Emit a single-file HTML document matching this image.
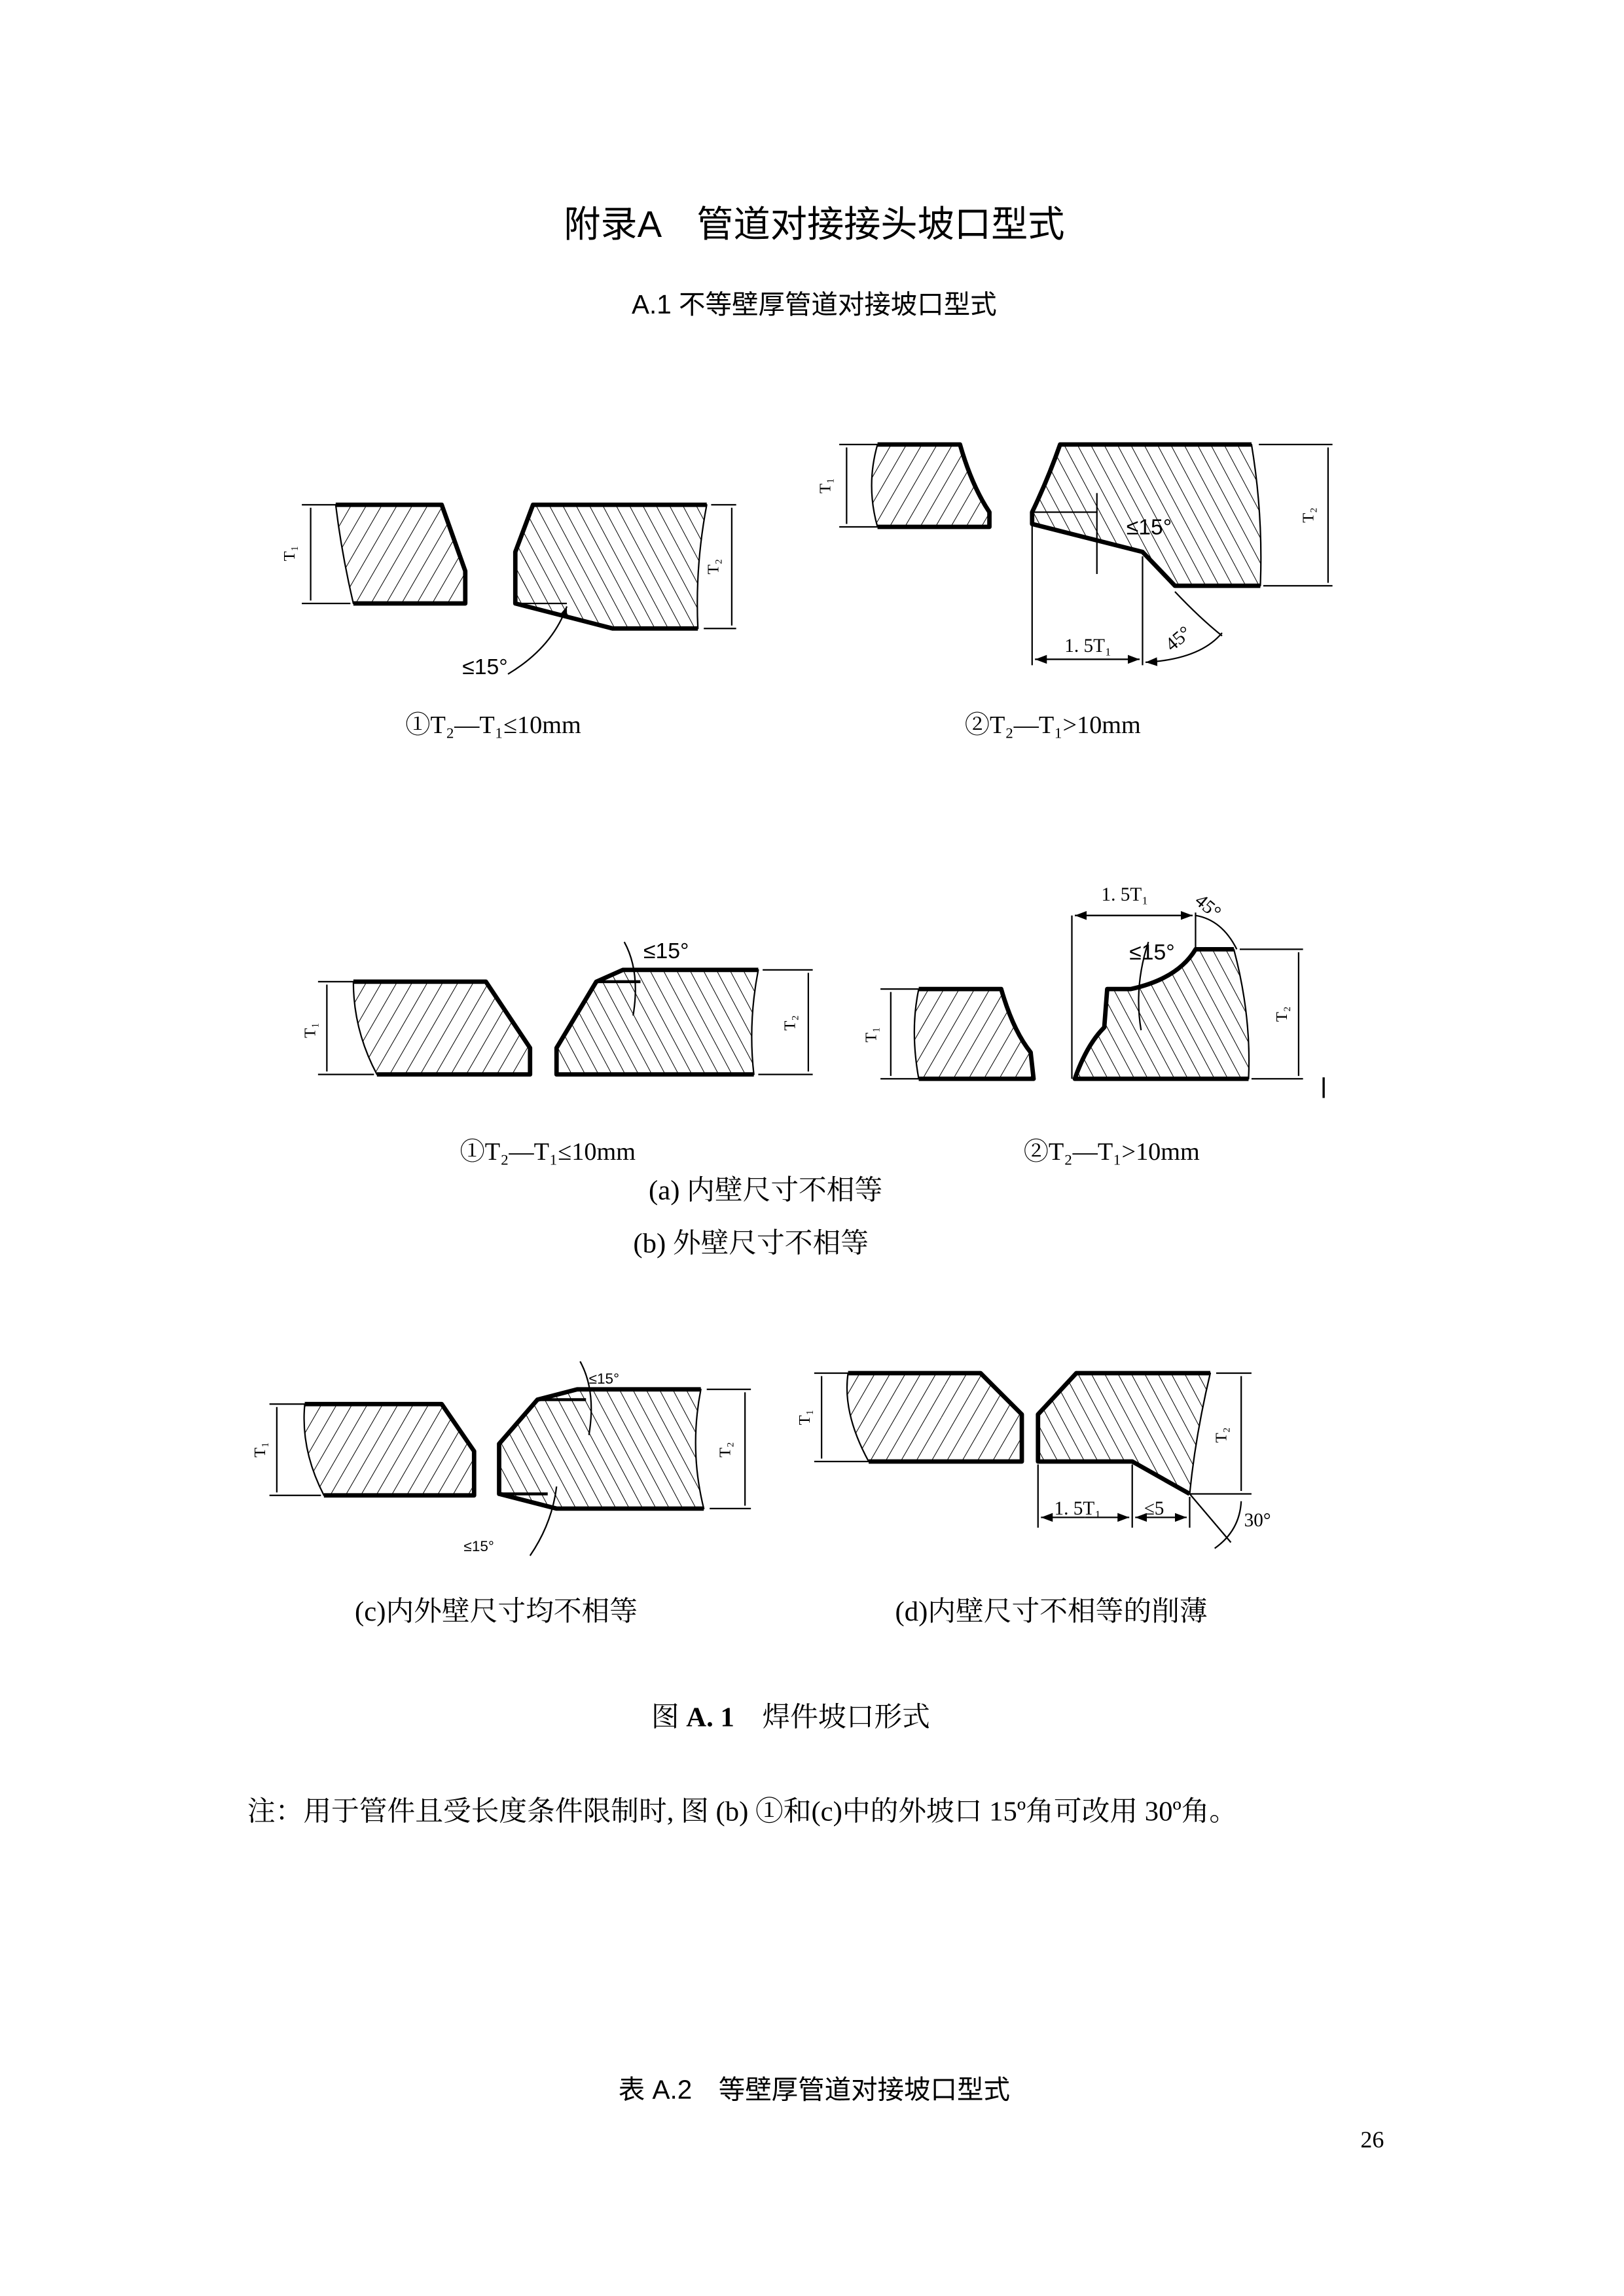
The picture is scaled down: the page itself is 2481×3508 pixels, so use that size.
<!DOCTYPE html>
<html><head><meta charset="utf-8"><style>
html,body{margin:0;padding:0;background:#fff}
svg{display:block}
.s{font-family:"Liberation Sans","Noto Sans CJK SC",sans-serif}
.r{font-family:"Liberation Serif","Noto Serif CJK SC",serif}
</style></head><body>
<svg width="2481" height="3508" viewBox="0 0 1103 1560" preserveAspectRatio="none" xmlns="http://www.w3.org/2000/svg">
<defs>
<pattern id="hf" patternUnits="userSpaceOnUse" width="9" height="9" patternTransform="rotate(30)">
<line x1="0" y1="0" x2="0" y2="9" stroke="#000" stroke-width="0.9"/></pattern>
<pattern id="hb" patternUnits="userSpaceOnUse" width="8" height="8" patternTransform="rotate(-28)">
<line x1="0" y1="0" x2="0" y2="8" stroke="#000" stroke-width="0.9"/></pattern>
<marker id="a" markerWidth="8" markerHeight="6" refX="8" refY="3" orient="auto" markerUnits="userSpaceOnUse"><path d="M0,0 L8,3 L0,6z" fill="#000"/></marker>
</defs>
<rect width="1103" height="1560" fill="#fff"/>
<g fill="#000">
<text class="s" x="553" y="161" font-size="25" text-anchor="middle">附录A　管道对接接头坡口型式</text>
<text class="s" x="553" y="213" font-size="18" text-anchor="middle">A.1 不等壁厚管道对接坡口型式</text>
</g>
<g stroke="#000" fill="none" stroke-linejoin="round">
<!-- row1 piece1 -->
<path d="M228,343 L300,343 L316,388 L316,410 L240,410 Q232,376 228,343Z" fill="url(#hf)" stroke-width="1"/>
<path d="M228,343 L300,343 L316,388 L316,410 L240,410" stroke-width="3"/>
<path d="M362,343 L480,343 Q472,385 474,427 L416,427 L350,410 L350,375 Z" fill="url(#hb)" stroke-width="1"/>
<path d="M474,427 L416,427 L350,410 L350,375 L362,343 L480,343" stroke-width="3"/>
<line x1="350" y1="410" x2="385" y2="410" stroke-width="1"/>
<path d="M205,343 H228 M205,410 H238 M211,345 V408 M483,343 H500 M478,427 H500 M497,345 V425" stroke-width="1"/>
<path d="M345,458 Q375,440 385,412" stroke-width="1" marker-end="url(#a)"/>
<!-- row1 piece2 -->
<path d="M596,302 L652,302 Q660,330 672,348 L672,358 L596,358 Q588,330 596,302Z" fill="url(#hf)" stroke-width="1"/>
<path d="M596,302 L652,302 Q660,330 672,348 L672,358 L596,358" stroke-width="3"/>
<path d="M720,302 L850,302 Q858,350 856,398 L798,398 L776,375 L701,356 L701,348 Q712,325 720,302Z" fill="url(#hb)" stroke-width="1"/>
<path d="M856,398 L798,398 L776,375 L701,356 L701,348 Q712,325 720,302 L850,302" stroke-width="3"/>
<path d="M570,302 H596 M570,358 H596 M575,304 V356 M855,302 H905 M858,398 H905 M902,304 V396" stroke-width="1"/>
<path d="M701,356 V452 M776,378 V452 M701,348 H745 M745,335 V390 M703,448 L774,448 M798,402 Q815,420 830,432" stroke-width="1"/>
<path d="M740,448 H703" stroke-width="1" marker-end="url(#a)"/><path d="M740,448 H774" stroke-width="1" marker-end="url(#a)"/>
<path d="M830,430 Q815,448 778,450" stroke-width="1" marker-end="url(#a)"/>
<!-- row2 piece1 -->
<path d="M240,667 L330,667 L360,712 L360,730 L256,730 Q240,700 240,667Z" fill="url(#hf)" stroke-width="1"/>
<path d="M240,667 L330,667 L360,712 L360,730 L256,730" stroke-width="3"/>
<path d="M423,659 L515,659 Q508,695 512,730 L378,730 L378,712 L405,667 Z" fill="url(#hb)" stroke-width="1"/>
<path d="M515,659 L423,659 L405,667 L378,712 L378,730 L512,730" stroke-width="3"/>
<line x1="405" y1="667" x2="435" y2="667" stroke-width="2"/>
<path d="M216,667 H240 M216,730 H254 M222,669 V728 M518,659 H552 M515,730 H552 M549,661 V728 M430,690 Q435,660 424,640" stroke-width="1"/>
<!-- row2 piece2 -->
<path d="M624,672 L680,672 Q688,700 700,715 L702,733 L624,733 Q618,700 624,672Z" fill="url(#hf)" stroke-width="1"/>
<path d="M624,672 L680,672 Q688,700 700,715 L702,733 L624,733" stroke-width="3"/>
<path d="M730,733 Q738,710 750,698 L752,672 L768,672 Q800,665 812,645 L838,645 Q850,690 848,733 Z" fill="url(#hb)" stroke-width="1"/>
<path d="M848,733 L730,733 Q738,710 750,698 L752,672 L768,672 Q800,665 812,645 L838,645" stroke-width="3"/>
<path d="M598,672 H624 M598,733 H624 M605,674 V731 M842,645 H885 M850,733 H885 M882,647 V731 M728,622 V733 M812,620 V645 M770,622 H730 M770,622 H810 M775,700 Q770,670 780,640 M812,622 Q830,625 840,645" stroke-width="1"/>
<path d="M770,622 H730" stroke-width="1" marker-end="url(#a)"/><path d="M770,622 H810" stroke-width="1" marker-end="url(#a)"/>
<path d="M899,732 V746" stroke-width="1.5"/>
<!-- row3 c -->
<path d="M207,954 L300,954 L322,986 L322,1016 L220,1016 Q204,985 207,954Z" fill="url(#hf)" stroke-width="1"/>
<path d="M207,954 L300,954 L322,986 L322,1016 L220,1016" stroke-width="3"/>
<path d="M392,944 L476,944 Q468,985 478,1025 L378,1025 L339,1015 L339,981 L365,951 Z" fill="url(#hb)" stroke-width="1"/>
<path d="M476,944 L392,944 L365,951 L339,981 L339,1015 L378,1025 L478,1025" stroke-width="3"/>
<path d="M365,951 H398 M339,1015 H372" stroke-width="2"/>
<path d="M183,954 H207 M183,1016 H218 M188,956 V1014 M480,944 H510 M482,1025 H510 M506,946 V1023 M400,975 Q405,945 394,925 M360,1057 Q375,1035 378,1010" stroke-width="1"/>
<!-- row3 d -->
<path d="M576,933 L666,933 L694,961 L694,993 L590,993 Q572,960 576,933Z" fill="url(#hf)" stroke-width="1"/>
<path d="M576,933 L666,933 L694,961 L694,993 L590,993" stroke-width="3"/>
<path d="M731,933 L822,933 Q812,975 808,1015 L769,993 L705,993 L705,961 Z" fill="url(#hb)" stroke-width="1"/>
<path d="M822,933 L731,933 L705,961 L705,993 L769,993 L808,1015" stroke-width="3"/>
<path d="M553,933 H576 M553,993 H590 M558,935 V991 M826,933 H850 M808,1015 H850 M843,935 V1013 M705,995 V1038 M769,995 V1038 M808,1017 V1038 M808,1015 L836,1048 M843,1020 Q842,1040 825,1052" stroke-width="1"/>
<path d="M737,1031 H707" stroke-width="1" marker-end="url(#a)"/><path d="M737,1031 H767" stroke-width="1" marker-end="url(#a)"/>
<path d="M788,1031 H771" stroke-width="1" marker-end="url(#a)"/><path d="M788,1031 H806" stroke-width="1" marker-end="url(#a)"/>
</g>
<g fill="#000" class="r">
<text x="200" y="376" font-size="11" transform="rotate(-90 200 376)" text-anchor="middle">T₁</text>
<text x="488" y="385" font-size="11" transform="rotate(-90 488 385)" text-anchor="middle">T₂</text>
<text x="564" y="330" font-size="11" transform="rotate(-90 564 330)" text-anchor="middle">T₁</text>
<text x="892" y="350" font-size="11" transform="rotate(-90 892 350)" text-anchor="middle">T₂</text>
<text x="214" y="700" font-size="11" transform="rotate(-90 214 700)" text-anchor="middle">T₁</text>
<text x="540" y="695" font-size="11" transform="rotate(-90 540 695)" text-anchor="middle">T₂</text>
<text x="595" y="703" font-size="11" transform="rotate(-90 595 703)" text-anchor="middle">T₁</text>
<text x="874" y="689" font-size="11" transform="rotate(-90 874 689)" text-anchor="middle">T₂</text>
<text x="180" y="985" font-size="11" transform="rotate(-90 180 985)" text-anchor="middle">T₁</text>
<text x="496" y="985" font-size="11" transform="rotate(-90 496 985)" text-anchor="middle">T₂</text>
<text x="550" y="963" font-size="11" transform="rotate(-90 550 963)" text-anchor="middle">T₁</text>
<text x="833" y="975" font-size="11" transform="rotate(-90 833 975)" text-anchor="middle">T₂</text>
<text class="s" x="314" y="458" font-size="15">≤15°</text>
<text class="s" x="765" y="363" font-size="15">≤15°</text>
<text x="723" y="443" font-size="13">1. 5T₁</text>
<text x="792" y="440" font-size="13" transform="rotate(-40 798 436)">45°</text>
<text class="s" x="437" y="651" font-size="15">≤15°</text>
<text class="s" x="767" y="652" font-size="15">≤15°</text>
<text x="748" y="612" font-size="13">1. 5T₁</text>
<text x="812" y="618" font-size="13" transform="rotate(40 818 614)">45°</text>
<text class="s" x="400" y="940" font-size="10">≤15°</text>
<text class="s" x="315" y="1054" font-size="10">≤15°</text>
<text x="716" y="1029" font-size="13">1. 5T₁</text>
<text x="777" y="1029" font-size="13">≤5</text>
<text x="845" y="1037" font-size="13">30°</text>
<text x="335" y="498" font-size="17" text-anchor="middle">①T₂—T₁≤10mm</text>
<text x="715" y="498" font-size="17" text-anchor="middle">②T₂—T₁>10mm</text>
<text x="372" y="788" font-size="17" text-anchor="middle">①T₂—T₁≤10mm</text>
<text x="755" y="788" font-size="17" text-anchor="middle">②T₂—T₁>10mm</text>
<text x="520" y="815" font-size="19" text-anchor="middle">(a)  内壁尺寸不相等</text>
<text x="510" y="851" font-size="19" text-anchor="middle">(b)  外壁尺寸不相等</text>
<text x="337" y="1101" font-size="19" text-anchor="middle">(c)内外壁尺寸均不相等</text>
<text x="714" y="1101" font-size="19" text-anchor="middle">(d)内壁尺寸不相等的削薄</text>
<text x="537" y="1173" font-size="19" text-anchor="middle">图 <tspan font-weight="bold">A. 1</tspan>　焊件坡口形式</text>
<text x="168" y="1237" font-size="19">注：用于管件且受长度条件限制时, 图 (b) ①和(c)中的外坡口 15º角可改用 30º角。</text>
<text class="s" x="553" y="1426" font-size="18" text-anchor="middle">表 A.2　等壁厚管道对接坡口型式</text>
<text x="932" y="1459" font-size="16" text-anchor="middle">26</text>
</g>
</svg>
</body></html>
